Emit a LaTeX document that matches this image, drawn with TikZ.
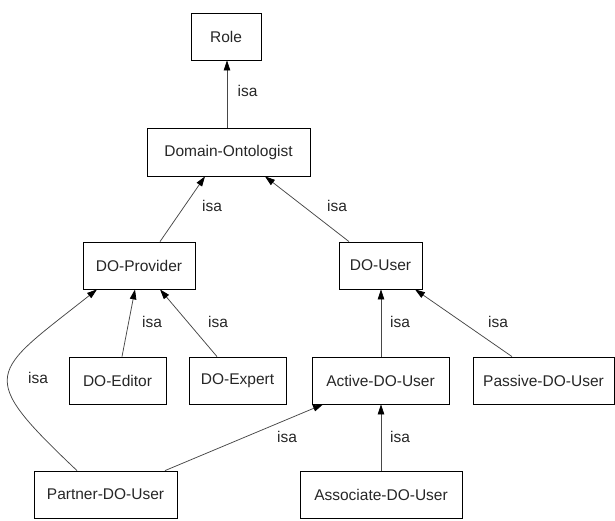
\documentclass[tikz,border=0pt]{standalone}
\usepackage{fontspec}
\setmainfont{Liberation Sans}
\usetikzlibrary{arrows.meta,calc}
\tikzset{
  box/.style={draw=black, line width=0.8pt, rectangle, inner sep=0pt, minimum height=47pt, text=black!85, font=\fontsize{15.5}{18}\selectfont},
  isa/.style={draw=black!72, line width=0.75pt, -{Triangle[length=10pt,width=6.5pt,color=black]}},
  lbl/.style={inner sep=0pt, anchor=base, text=black!85, font=\fontsize{15.5}{18}\selectfont}
}
\begin{document}
\begin{tikzpicture}[x=1pt,y=-1pt]
\useasboundingbox (0,0) rectangle (615,521);
% nodes
\node[box, minimum width=70pt]  (role) at (226,36.5) {Role};
\node[box, minimum width=163pt, minimum height=48pt] (dom) at (228.5,152) {Domain-Ontologist};
\node[box, minimum width=112pt] (dp) at (139,265.5) {DO-Provider};
\node[box, minimum width=83pt]  (du) at (380.5,265.5) {DO-User};
\node[box, minimum width=97pt]  (ed) at (117.5,380.5) {DO-Editor};
\node[box, minimum width=97pt]  (ex) at (237.5,380.5) {DO-Expert};
\node[box, minimum width=137pt] (ac) at (380.5,380.5) {Active-DO-User};
\node[box, minimum width=141pt] (pv) at (543.5,380.5) {Passive-DO-User};
\node[box, minimum width=143pt] (pa) at (105.5,494.5) {Partner-DO-User};
\node[box, minimum width=162pt] (as) at (381,494.5) {Associate-DO-User};
% connectors
\draw[isa] ([xshift=-1.5pt]dom.north) -- ([xshift=1pt]role.south);
\draw[isa] ([xshift=21pt]dp.north) -- ([xshift=-23.5pt]dom.south);
\draw[isa] ([xshift=-31.5pt]du.north) -- ([xshift=36.5pt]dom.south);
\draw[isa] ([xshift=4.5pt]ed.north) -- ([xshift=-4pt]dp.south);
\draw[isa] ([xshift=-20.5pt]ex.north) -- ([xshift=21pt]dp.south);
\draw[isa] ([xshift=-28.5pt]pa.north) .. controls ($(pa.north)+(-131.1,-97.2)$) and ($(dp.south)+(-148.6,84.5)$) .. ([xshift=-42pt]dp.south);
\draw[isa] ([xshift=59.5pt]pa.north) -- ([xshift=-57.5pt]ac.south);
\draw[isa] ([xshift=0.5pt]ac.north) -- ([xshift=0.5pt]du.south);
\draw[isa] ([xshift=-31.5pt]pv.north) -- ([xshift=34.5pt]du.south);
\draw[isa] (as.north) -- ([xshift=0.5pt]ac.south);
% labels
\node[lbl] (l1) at (247.5,97) {isa};
\node[lbl] (l2) at (212,212) {isa};
\node[lbl] (l3) at (337,212) {isa};
\node[lbl] (l4) at (152,327) {isa};
\node[lbl] (l5) at (218,327) {isa};
\node[lbl] (l6) at (38,383) {isa};
\node[lbl] (l7) at (400,327) {isa};
\node[lbl] (l8) at (498,327) {isa};
\node[lbl] (l9) at (287,442) {isa};
\node[lbl] (l10) at (400,442) {isa};
\end{tikzpicture}
\end{document}
